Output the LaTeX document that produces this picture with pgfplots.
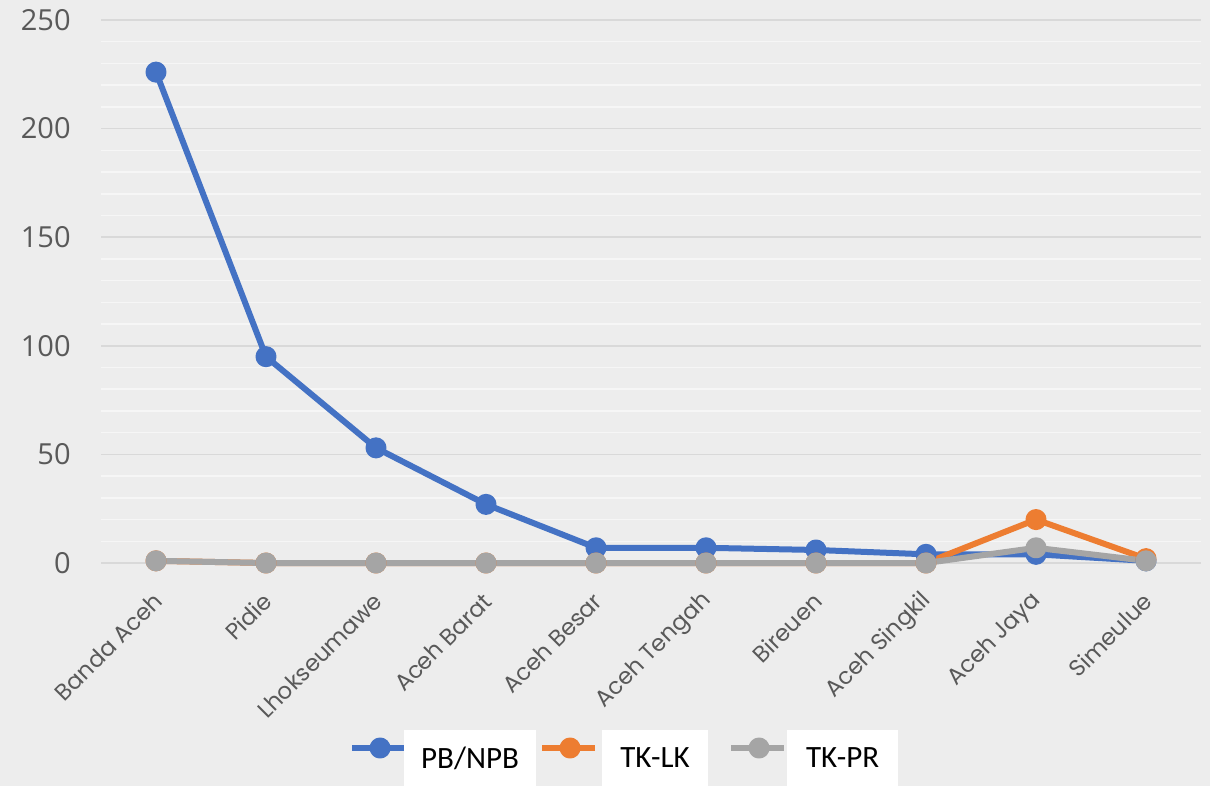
\documentclass[border=0pt]{standalone}
\usepackage{pgfplots}
\pgfplotsset{compat=1.18}
\usepackage{fontspec}
\setmainfont{Open Sans}
\newfontfamily\legfont{Carlito}
\newfontfamily\xfont{Poppins}
\definecolor{bg}{HTML}{EDEDED}
\definecolor{majgrid}{HTML}{D9D9D9}
\definecolor{mingrid}{HTML}{F6F6F6}
\definecolor{tickgray}{HTML}{595959}
\definecolor{cblue}{HTML}{4472C4}
\definecolor{corange}{HTML}{ED7D31}
\definecolor{cgray}{HTML}{A5A5A5}
\newcommand{\legbox}[2]{\colorbox{white}{\parbox[c][28bp][c]{#1}{\centering\legfont\fontsize{15.5bp}{17bp}\selectfont #2}}}
\begin{document}
\begin{tikzpicture}[x=1bp,y=1bp]
\fill[bg] (0,0) rectangle (605,393);
\useasboundingbox (0,0) rectangle (605,393);
\setlength{\fboxsep}{0pt}
\begin{axis}[
  at={(50.5bp,111.5bp)}, anchor=south west,
  scale only axis, width=550bp, height=271.5bp,
  xmin=-0.5, xmax=9.5, ymin=0, ymax=250,
  clip=false,
  axis line style={draw=none},
  major tick length=0pt, minor tick length=0pt,
  tick style={draw=none},
  xtick={0,...,9},
  xticklabels={Banda Aceh,Pidie,Lhokseumawe,Aceh Barat,Aceh Besar,Aceh Tengah,Bireuen,Aceh Singkil,Aceh Jaya,Simeulue},
  ytick={0,50,...,250},
  minor ytick={10,20,30,40,60,70,80,90,110,120,130,140,160,170,180,190,210,220,230,240},
  ymajorgrids, yminorgrids,
  major grid style={majgrid, line width=0.75bp},
  minor grid style={mingrid, line width=0.75bp},
  /pgf/number format/assume math mode=true,
  yticklabel style={font=\fontsize{14.5bp}{16bp}\selectfont, text=tickgray, anchor=east, inner sep=0pt, xshift=-15bp},
  xticklabel style={yshift=-17bp, xshift=1bp, rotate=45, anchor=east, inner sep=0pt, font=\xfont\fontsize{11.5bp}{13bp}\selectfont, text=tickgray},
  every axis plot/.append style={line width=3bp, line join=round, mark=*, mark size=3.75bp},
  legend image code/.code={\draw[mark repeat=2,mark phase=2] plot coordinates {(0bp,0bp) (14bp,0bp) (26.5bp,0bp)};},
  legend columns=3,
  legend style={at={(0.2255,-0.3407)}, anchor=west, draw=none, fill=none, inner sep=0pt, outer sep=0pt,
    nodes={inner sep=0pt, outer sep=0pt}, /tikz/every even column/.append style={column sep=0pt}},
]
\addplot[cblue, mark options={solid, fill=cblue, draw=cblue}] coordinates {
 (0,226) (1,95) (2,53) (3,27) (4,7) (5,7) (6,6) (7,4) (8,4) (9,1)};
\addlegendentry{\kern-2bp\legbox{66bp}{PB/NPB}\rule{1.5bp}{0pt}}
\addplot[corange, mark options={solid, fill=corange, draw=corange}] coordinates {
 (0,1) (1,0) (2,0) (3,0) (4,0) (5,0) (6,0) (7,0) (8,20) (9,2)};
\addlegendentry{\kern2bp\legbox{53bp}{TK-LK}\rule{10bp}{0pt}}
\addplot[cgray, mark options={solid, fill=cgray, draw=cgray}] coordinates {
 (0,1) (1,0) (2,0) (3,0) (4,0) (5,0) (6,0) (7,0) (8,7) (9,1)};
\addlegendentry{\kern0bp\legbox{55.5bp}{TK-PR}}
\end{axis}
\end{tikzpicture}
\end{document}
